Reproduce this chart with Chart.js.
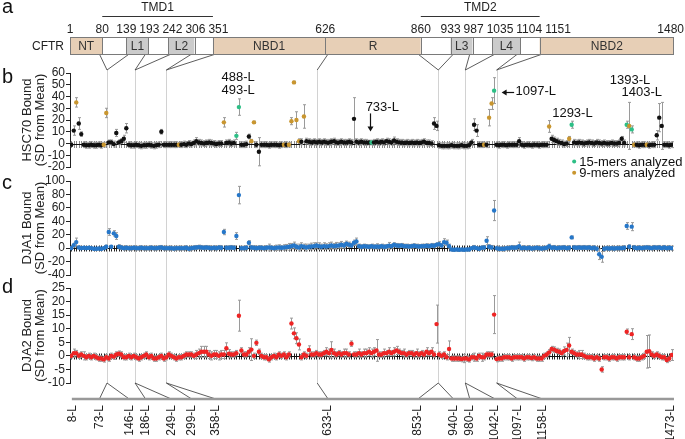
<!DOCTYPE html>
<html><head><meta charset="utf-8">
<script src="https://cdn.jsdelivr.net/npm/chart.js@4/dist/chart.umd.min.js"></script>
<style>
html,body{margin:0;padding:0;background:#fff;}
#wrap{position:relative;width:685px;height:439px;overflow:hidden;}
#wrap canvas{position:absolute;left:0;top:0;}
</style></head><body>
<div id="wrap">
<canvas id="cb" width="685" height="439"></canvas>
<canvas id="cc" width="685" height="439"></canvas>
<canvas id="cd" width="685" height="439"></canvas>
</div>
<script>
// ---------- DATA ----------
// panel b: HSC70 bound (SD from mean), one value per peptide
const hsc70 = [
 -1, 11, 35, 17, 8, -1, -1.5, -1.5, -1, -1.5,
 -1.5, -1, -1.5, -1, 26, 1, 1, -0.5, 9, 1,
 2, 4, 13, -1, -1.5, -1.5, -1, -1.5, -2, -1.5,
 -1.5, -1, -1.5, -2, -1.5, -1, 10, -1, -1, -1,
 -1, -1, -1, -1, -1, -0.5, -1, 0, -0.5, 0.5,
 2, 1, 0.5, 0, 0.5, 1, 0.5, 0, -0.5, 0,
 0, 18, 0.5, 1, 0, 0.5, 6.5, 31, -1, -1,
 -0.5, 6, 2, 18, -1, -7, -1, -1, -1, -1.5,
 -1, -1, -1, -1.5, -1, -1, -1, -1, 19, 52,
 20, 2, 1.5, 23, 2, 1.5, 1, 1.5, 1, 1.5,
 1, 1.5, 1, 1, 1.5, 2, 1, 1, 1.5, 1,
 1, 1.5, 1, 21, 1.5, 1, 1.5, 1, 1, 0.8,
 0.8, 1, 1.5, 1, 1.5, 1, 2, 1.5, 1, 2.5,
 1.5, 1, 1, 0.5, 1, 0.5, 1, 0.5, 1, 0.5,
 1, 1.5, 0.5, 0.5, 0, 17, 15, -1.5, -2, -2,
 -2, -2, -1.5, -2, -2, -2, -1.5, -2, -2, -1.5,
 1, 16, 11, -1, -1, -1, -1, 22, 34, 45,
 -1, -1.5, -1, -1, -1.5, -1, -1, -1, -1, 2,
 -1, -1.5, -1, -1, -1.5, -1, -1, -1.5, -1, -1,
 -1, 14.5, 4, 3, 2, 1, 0.5, -0.5, 0, 4,
 16, 1, 0.5, 1, 0.5, 0, 0.5, 1, 0.5, 0,
 1, 0.5, 0, 0.5, 0, 0, 0.5, 0, 0, 0.5,
 4, 0.5, 16, 15, 12, -1, -1, -1.5, -1, -1,
 -1, -1.5, -1, -1, 7, 22, 15, -1, -1, -1.5,
 -1
];
const hsc70Err = [
 1.5, 4, 4, 5, 2, 2.5, 2.5, 2.5, 2.5, 2.5,
 2.5, 2.5, 2.5, 2, 4, 2, 2, 2.5, 3, 2,
 2, 3, 4, 2.5, 2.5, 2.5, 2.5, 2.5, 2.5, 2.5,
 2.5, 2.5, 2.5, 2.5, 2.5, 2.5, 2, 2.5, 2.5, 2.5,
 2.5, 2.5, 2.5, 2, 2.5, 2.5, 2.5, 2.5, 2.5, 2.5,
 3, 2.5, 2.5, 2.5, 2.5, 2.5, 2.5, 2.5, 2.5, 2.5,
 2.5, 4, 2.5, 2.5, 2.5, 2.5, 3, 7, 2.5, 2.5,
 2.5, 2, 1.5, 1, 2.5, 12, 2.5, 2.5, 2.5, 2.5,
 2.5, 2.5, 2.5, 2.5, 2.5, 2, 2.5, 2, 3, 1,
 7, 2, 2.5, 10, 2.5, 2.5, 2.5, 2.5, 2.5, 2.5,
 2.5, 2.5, 2.5, 2.5, 2.5, 2.5, 2.5, 2.5, 2.5, 2.5,
 2.5, 2.5, 2.5, 18, 2.5, 2.5, 2.5, 2.5, 2.5, 2,
 2, 2.5, 2.5, 2.5, 2.5, 2.5, 2.5, 2.5, 2.5, 3,
 2.5, 2.5, 2.5, 2.5, 2.5, 2.5, 2.5, 2.5, 2.5, 2.5,
 2.5, 2.5, 2.5, 2.5, 2.5, 5, 4, 2.5, 2.5, 2.5,
 2.5, 2.5, 2.5, 2.5, 2.5, 2.5, 2.5, 2.5, 2.5, 2.5,
 2.5, 5, 5, 2.5, 2.5, 2, 2.5, 7, 5, 11,
 2.5, 2.5, 2.5, 2.5, 2.5, 2.5, 2.5, 2.5, 2.5, 3,
 2.5, 2.5, 2.5, 2.5, 2.5, 2.5, 2.5, 2.5, 2.5, 2.5,
 2.5, 5, 3, 2.5, 2.5, 2.5, 2.5, 2.5, 2.5, 2,
 3, 2.5, 2.5, 2.5, 2.5, 2.5, 2.5, 2.5, 2.5, 2.5,
 2.5, 2.5, 2.5, 2.5, 2.5, 2.5, 2.5, 2.5, 2.5, 2.5,
 2, 2.5, 3, 20, 3, 2, 2.5, 2.5, 2.5, 2.5,
 2, 2.5, 2.5, 2.5, 4, 12, 20, 2.5, 2.5, 2.5,
 2.5
];
// peptides analysed as 9-mers (gold) and 15-mers (green) in panel b
const nineMerIdx = [2, 13, 14, 43, 61, 72, 73, 85, 87, 88, 89, 90, 91, 93, 165, 167, 168, 191, 199, 223, 225, 230];
const fifteenMerIdx = [66, 67, 120, 169, 200, 222, 224];

// panel c: DJA1 bound
const dja1 = [
 0, 4.5, 9, 1, 0, 0.5, 0, 0.5, 0, -1,
 -1, -0.5, -1, 0, 2, 24, 2, 22, 18, 2,
 1, 0, 0.5, 0, 0, 0.5, 0, 0, 0.5, 0,
 0, 0, 0.5, 0, 0, 0.5, 1, 0, 0, 0,
 0, -0.5, 0, 0, 0, 0, 0.5, -1, 0, 0.5,
 1, 1.5, 1, 0.5, 1, 0.5, 0, 0.5, 0, 1,
 0.5, 24, 0.5, 0.5, 1, 0.5, 18, 79, 0, 0,
 0.5, 8, 1, 0.5, 0, 0.5, 0.5, 0, 0.5, 1,
 0.5, 0, 0.5, 1, 0.5, 1, 1.5, 2, 3, 4,
 2, 1, 3, 2, 1, 2, 2.5, 3, 4, 3,
 2, 3, 2.5, 3, 4, 3, 3.5, 4, 5, 4,
 6.5, 5, 4, 8, 10, 3, 2, 3, 2.5, 2,
 3, 2, 2.5, 2, 3, 2, 2.5, 3.5, 3, 5,
 4, 3.5, 4, 3, 3, 2.5, 3, 3.5, 3, 2.5,
 3, 3, 3.5, 3, 4, 3.5, 5, 6, 4, 9,
 8, 3, -2, -2.5, -2, -2.5, -2, -2.5, -2, -2,
 0, 1, 0, -1, 0.5, 1, 11, 2, 1, 56,
 0, -1, -1, -1, 0, 0, 1, 0.5, 1, 3,
 0, 0.5, 0, 0.5, -0.5, 0, 0.5, 0, -0.5, 0,
 0.5, 3, 0.5, 1, 0, 0.5, 0.5, 1, 0, 0.5,
 16, 1, 0.5, 1, 0.5, 1, 0.5, 1, 0, 0.5,
 -1, -9, -13, -1, 0, -0.5, 0, -0.5, 0, 0,
 0, 0.5, 33, 2, 32, 1, 0, 0.5, 0, 0.5,
 1, 0.5, 0, 1, 0.5, 1, 0, 1, 0, 0.5,
 0
];
const dja1Err = [
 1.5, 3, 6, 2, 2, 2, 2, 2, 2, 2,
 2, 2, 2, 2, 2.5, 5, 2, 4, 5, 3,
 3, 3, 3, 3, 3, 3, 3, 3, 3, 3,
 3, 3, 3, 3, 3, 3, 3, 3, 3, 3,
 3, 3, 3, 3, 3, 3, 3, 3, 3, 3,
 3, 3, 3, 3, 3, 3, 3, 3, 3, 3,
 3, 4, 3, 3, 3, 3, 5, 13, 3, 3,
 3, 3, 3, 3, 3, 3, 3, 3, 3, 5,
 3, 3, 4, 4, 3, 4, 4, 5, 4, 5,
 4, 5, 5, 4, 5, 4, 5, 5, 4, 5,
 4, 5, 4, 5, 5, 4, 5, 4, 5, 4,
 4, 4, 3, 4, 5, 3, 3, 3, 3, 3,
 3, 3, 4, 3, 3, 3, 3, 5, 3, 3,
 3, 3, 3, 3, 3, 3, 3, 3, 3, 3,
 3, 3, 3, 3, 3, 3, 3, 4, 3, 5,
 4, 3, 2, 2, 2, 2, 2, 2, 2, 2,
 2, 3, 2, 2, 3, 3, 6, 3, 3, 15,
 3, 3, 3, 3, 3, 3, 3, 3, 3, 6,
 3, 3, 3, 3, 3, 3, 3, 3, 3, 3,
 3, 3, 3, 3, 3, 3, 3, 3, 3, 3,
 2, 3, 3, 3, 3, 3, 3, 3, 3, 3,
 3, 8, 8, 3, 3, 3, 3, 3, 3, 3,
 3, 3, 5, 3, 6, 3, 3, 3, 3, 3,
 3, 3, 3, 3, 3, 3, 3, 3, 3, 3,
 3
];

// panel d: DJA2 bound
const dja2 = [
 0, 1, 1, 0, 0.5, 0, -0.5, 0, -0.5, 0,
 -0.5, -1, -1, -1.3, -0.5, -1, 0, -0.3, 0.5, 0.8,
 0.5, -0.5, -0.5, 0, -0.5, 0, -0.5, -1, -0.5, 0,
 0.5, -0.5, 0, -1, -1, -0.5, 0, -1, -0.5, 0.5,
 0, -0.5, -1, -0.5, -0.5, 0, 0.5, 0.5, 0.5, 0,
 0.5, 1, 1.5, 1.5, 1.5, 0.5, 0, 0.5, 0.5, 0,
 0.5, 0.5, 2.8, 0.8, 0.5, 0.5, 1, 14.8, 2, 0.5,
 0.5, 1.5, 2.3, 0, 4.8, 1.5, 0, -0.5, -0.5, -1.3,
 -0.5, 0, -0.5, 0.5, 0, 0.5, -0.5, 0.5, 11.9, 8.3,
 6.5, 4.2, -0.5, 0.5, 0, 2.2, 0.5, 0.5, 1, 0.5,
 0.5, 1, 1.5, 1, 2.2, 1, 0.5, 1, 0.5, 1,
 1, 0.5, 4.5, 0.5, 0.5, 1, 0.5, 1, 1, 1.5,
 1, 1.5, 2, 0.5, 0.5, 1, 1, 1.5, 1, 1.5,
 2, 1.5, 1, 1, 0.5, 1, 1, 0.5, 1, 0.5,
 1, 0.5, 1.5, 1, 1.5, 0.5, 11.7, 0.5, 0, 0.5,
 -0.5, 2.5, -1, -1, -1, -1, -1.2, -1, -1, -1.3,
 -0.5, -0.5, -1, 0, -0.5, -0.5, 0.5, 0.5, 0.5, 15.2,
 -1.2, -1, -1, -0.5, -0.5, -0.5, -1, -0.5, -0.5, -0.5,
 -0.5, -1, -0.5, -0.5, -0.8, -0.5, -1, -1, -1, 0,
 0.5, 1.3, 2.5, 2.3, 1.8, 1.5, 1, 1.8, 2.2, 3.8,
 1.5, 1, 0.5, 0.5, 0.5, 0, -0.5, -0.5, -0.5, -1,
 -0.5, -1, -5, -0.5, -0.5, -1, -0.5, -0.5, -1, -0.5,
 -0.5, -0.5, 8.9, -0.5, 8, -0.5, -1, -1, -0.5, 0,
 1.5, 1.7, 0.5, 0, 0.5, 0, -0.5, -0.5, -1.5, -1,
 0.3
];
const dja2Err = [
 0.8, 1.5, 1, 1, 1, 1.5, 1, 1, 1, 1,
 1, 1, 1, 1, 1, 1, 1, 1, 1, 1,
 1, 1, 1, 1, 1, 1, 1, 1, 1, 1,
 1, 1, 1, 1, 1, 1, 1, 1, 1, 1,
 1, 1, 1, 1, 1, 1, 1, 1, 1, 1,
 1.5, 1.5, 2, 2, 2, 1.5, 1.5, 1.5, 1.5, 1.5,
 1.5, 1.5, 2, 1.5, 1, 1, 1, 5.7, 1, 1,
 1, 1.5, 4, 1, 1, 1, 1, 1, 1, 1,
 1, 1, 1, 1, 1, 1, 1, 1, 2, 2,
 2, 2, 1, 1, 1, 1.5, 1, 1, 1, 1,
 1, 1, 1.5, 1.5, 3, 1.5, 1, 1, 1, 1.5,
 1.5, 1, 1, 1, 1, 1.5, 1, 1.5, 1.5, 1.5,
 1.5, 1.5, 4, 1, 1, 1.5, 1, 1.5, 1, 1.5,
 1.5, 1, 1, 1.5, 1, 1, 1, 1, 1.5, 1,
 1, 1, 1.5, 1, 1.5, 1, 7, 1, 1, 1,
 1, 3, 1, 1, 1, 1, 1, 1.5, 1, 1,
 1, 1.5, 1, 1, 1.5, 1, 1, 1, 1, 7,
 1, 1, 1, 1, 1, 1, 1, 1, 1, 1,
 1, 1, 1, 1, 1, 1, 1, 1, 1, 1,
 1, 1, 1, 1, 1, 1, 1, 1.5, 2.5, 3,
 1, 1, 1, 1.5, 1.5, 1, 1, 1, 1, 1,
 1, 1, 1, 1, 1, 1, 1, 1, 1, 1,
 1, 1, 1, 1, 2, 1, 1, 1, 1, 1,
 6, 6, 1, 1, 1, 1, 1, 1, 1, 1,
 2
];

// domain map (residue numbers)
const domainStart = [1, 80, 139, 193, 242, 306, 351, 626, 860, 933, 987, 1035, 1104, 1151];
const domainEnd   = [80, 139, 193, 242, 306, 351, 626, 860, 933, 987, 1035, 1104, 1151, 1480];
const domainName  = ['NT', '', 'L1', '', 'L2', '', 'NBD1', 'R', '', 'L3', '', 'L4', '', 'NBD2'];
const domainKind  = ['nbd', 'tm', 'loop', 'tm', 'loop', 'tm', 'nbd', 'nbd', 'tm', 'loop', 'tm', 'loop', 'tm', 'nbd'];
const domainTicks = [1, 80, 139, 193, 242, 306, 351, 626, 860, 933, 987, 1035, 1104, 1151, 1480];
const tmdNames = ['TMD1', 'TMD2'];
const tmdRanges = [[80, 351], [860, 1151]];

// peptide positions of the domain boundaries (gray lines), and peptide labels below
const boundaryPeptides = [14.3, 25.5, 38, 98.3, 146.7, 157.5, 170];
const peptideResidues = [8, 73, 146, 186, 249, 299, 358, 633, 853, 940, 980, 1042, 1097, 1158, 1473];
const boundaryToLabels = [[1, 2], [3, 4], [5, 6], [7], [8, 9], [10, 11], [12, 13]];

// ---------- STYLE / CHARTS ----------
Chart.defaults.font.family = "'Liberation Sans', Arial, Helvetica, sans-serif";
Chart.defaults.color = '#222';
const FONT = "'Liberation Sans', Arial, Helvetica, sans-serif";
const BLACK = '#111', GOLD = '#c9962f', GREEN = '#2dbf86', BLUE = '#2677c9', RED = '#ee2424';
const N = hsc70.length;

function yAxis(min, max, step, title) {
  return {
    min: min, max: max,
    ticks: { stepSize: step, autoSkip: false, font: { size: 12 }, color: '#222', padding: 1 },
    grid: { drawOnChartArea: false, drawTicks: true, tickLength: 4, color: '#222' },
    border: { display: true, color: '#222', width: 1 },
    title: { display: true, text: title, font: { size: 13, lineHeight: 1.0 }, color: '#222', padding: { top: 21, bottom: 0 } },
    afterFit: function (s) { s.width = 70; }
  };
}

function panelDecor(vals, errs, tickCol, tickHalf) {
  return {
    id: 'panelDecor',
    beforeDatasetsDraw(chart) {
      const { ctx, chartArea: ca, scales: { x, y } } = chart;
      const y0 = Math.round(y.getPixelForValue(0)) + 0.5;
      ctx.save();
      ctx.lineWidth = 1;
      ctx.strokeStyle = tickCol;
      ctx.beginPath();
      for (let i = 0; i < vals.length; i++) {
        const px = Math.round(x.getPixelForValue(i)) + 0.5;
        ctx.moveTo(px, y0 - tickHalf); ctx.lineTo(px, y0 + tickHalf);
      }
      ctx.stroke();
      ctx.strokeStyle = '#111';
      ctx.beginPath(); ctx.moveTo(ca.left, y0); ctx.lineTo(ca.right, y0); ctx.stroke();
      ctx.strokeStyle = '#9a9a9a';
      ctx.beginPath();
      for (let i = 0; i < vals.length; i++) {
        const px = Math.round(x.getPixelForValue(i)) + 0.5;
        const a = y.getPixelForValue(vals[i] + errs[i]);
        const b = y.getPixelForValue(vals[i] - errs[i]);
        ctx.moveTo(px, a); ctx.lineTo(px, b);
        ctx.moveTo(px - 1.5, a); ctx.lineTo(px + 1.5, a);
        ctx.moveTo(px - 1.5, b); ctx.lineTo(px + 1.5, b);
      }
      ctx.stroke();
      ctx.restore();
    }
  };
}

const TOPLINE = 70, BOTLINE = 383, BAR_TOP = 37, BAR_BOT = 54, PEP_BAR = 399;

const overlay = {
  id: 'overlay',
  beforeDatasetsDraw(chart) {
    const { ctx, chartArea: ca, scales: { x } } = chart;
    const resX = r => ca.left + (r - 1) / 1479 * (ca.right - ca.left + 1);
    ctx.save();
    // gray boundary lines through all panels
    ctx.strokeStyle = '#d2d2d2'; ctx.lineWidth = 1;
    boundaryPeptides.forEach(b => {
      const px = Math.round(x.getPixelForValue(b)) + 0.5;
      ctx.beginPath(); ctx.moveTo(px, TOPLINE); ctx.lineTo(px, BOTLINE); ctx.stroke();
    });
    // fans
    ctx.strokeStyle = '#333'; ctx.lineWidth = 0.8;
    boundaryPeptides.forEach((b, k) => {
      const px = x.getPixelForValue(b);
      boundaryToLabels[k].forEach(li => {
        const rx = resX(peptideResidues[li]);
        ctx.beginPath(); ctx.moveTo(px, TOPLINE); ctx.lineTo(rx, BAR_BOT); ctx.stroke();
        ctx.beginPath(); ctx.moveTo(px, BOTLINE); ctx.lineTo(rx, PEP_BAR); ctx.stroke();
      });
    });
    ctx.restore();
  },
  afterDraw(chart) {
    const { ctx, chartArea: ca, scales: { x, y } } = chart;
    const resX = r => ca.left + (r - 1) / 1479 * (ca.right - ca.left + 1);
    ctx.save();
    // panel letters
    ctx.fillStyle = '#111'; ctx.font = '20px ' + FONT; ctx.textAlign = 'left'; ctx.textBaseline = 'alphabetic';
    [['a', 13], ['b', 83], ['c', 189], ['d', 293]].forEach(([t, yy]) => ctx.fillText(t, 2, yy));
    // domain bar
    domainStart.forEach((s, k) => {
      const x0 = resX(s), x1 = resX(domainEnd[k]);
      ctx.fillStyle = domainKind[k] === 'nbd' ? '#e7cfb6' : (domainKind[k] === 'loop' ? '#cbcbcb' : '#ffffff');
      ctx.fillRect(x0, BAR_TOP, x1 - x0, BAR_BOT - BAR_TOP);
    });
    ctx.strokeStyle = '#7a7a7a'; ctx.lineWidth = 1;
    ctx.strokeRect(Math.round(resX(1)) + 0.5, BAR_TOP + 0.5, Math.round(resX(1480) - resX(1)) - 1, BAR_BOT - BAR_TOP);
    ctx.beginPath();
    domainStart.forEach((s, k) => { if (k > 0) { const xx = Math.round(resX(s)) + 0.5; ctx.moveTo(xx, BAR_TOP); ctx.lineTo(xx, BAR_BOT); } });
    ctx.stroke();
    ctx.fillStyle = '#333'; ctx.font = '12px ' + FONT; ctx.textAlign = 'center'; ctx.textBaseline = 'middle';
    domainName.forEach((n, k) => { if (n) ctx.fillText(n, (resX(domainStart[k]) + resX(domainEnd[k])) / 2, (BAR_TOP + BAR_BOT) / 2 + 1); });
    ctx.textAlign = 'right'; ctx.fillStyle = '#222';
    ctx.fillText('CFTR', 64, (BAR_TOP + BAR_BOT) / 2 + 1);
    // residue numbers, nudged apart so they do not collide
    ctx.textAlign = 'center';
    const pos = domainTicks.map(r => resX(r));
    const w = domainTicks.map(r => ctx.measureText(String(r)).width);
    for (let i = 1; i < pos.length; i++) pos[i] = Math.max(pos[i], pos[i - 1] + (w[i - 1] + w[i]) / 2 + 3);
    pos[pos.length - 1] = Math.min(pos[pos.length - 1], 684 - w[w.length - 1] / 2);
    for (let i = pos.length - 2; i >= 0; i--) pos[i] = Math.min(pos[i], pos[i + 1] - (w[i + 1] + w[i]) / 2 - 3);
    domainTicks.forEach((r, i) => ctx.fillText(String(r), pos[i], 30));
    // TMD brackets
    ctx.strokeStyle = '#333'; ctx.lineWidth = 1;
    tmdRanges.forEach(([a, b], k) => {
      ctx.beginPath(); ctx.moveTo(resX(a), 16.5); ctx.lineTo(resX(b), 16.5); ctx.stroke();
      ctx.fillText(tmdNames[k], (resX(a) + resX(b)) / 2, 8);
    });
    // peptide bar at bottom
    ctx.strokeStyle = '#999'; ctx.lineWidth = 2.5;
    ctx.beginPath(); ctx.moveTo(resX(peptideResidues[0]) - 1, PEP_BAR); ctx.lineTo(resX(1480), PEP_BAR); ctx.stroke();
    ctx.fillStyle = '#222'; ctx.font = '12px ' + FONT; ctx.textAlign = 'right'; ctx.textBaseline = 'middle';
    peptideResidues.forEach(r => {
      ctx.save(); ctx.translate(resX(r), 405); ctx.rotate(-Math.PI / 2); ctx.fillText(r + '-L', 0, 0); ctx.restore();
    });
    // annotations in panel b
    ctx.font = '13px ' + FONT; ctx.fillStyle = '#111'; ctx.textAlign = 'center'; ctx.textBaseline = 'middle';
    const notes = [['488-L', 66.7, 56], ['493-L', 66.7, 45], ['733-L', 124.3, 31], ['1293-L', 200.3, 25.6], ['1393-L', 223.3, 54], ['1403-L', 228, 43.6]];
    notes.forEach(([t, i, v]) => ctx.fillText(t, x.getPixelForValue(i), y.getPixelForValue(v)));
    ctx.textAlign = 'left';
    ctx.fillText('1097-L', x.getPixelForValue(177.6), y.getPixelForValue(44));
    ctx.strokeStyle = '#111'; ctx.lineWidth = 1.2;
    // 733-L arrow (down)
    const ax = Math.round(x.getPixelForValue(119.5)) + 0.5, ay0 = y.getPixelForValue(25.6), ay1 = y.getPixelForValue(10.2);
    ctx.beginPath(); ctx.moveTo(ax, ay0); ctx.lineTo(ax, ay1 - 4); ctx.stroke();
    ctx.beginPath(); ctx.moveTo(ax - 3, ay1 - 5); ctx.lineTo(ax + 3, ay1 - 5); ctx.lineTo(ax, ay1); ctx.closePath(); ctx.fill();
    // 1097-L arrow (left)
    const by = Math.round(y.getPixelForValue(44)) + 0.5, bx0 = x.getPixelForValue(177), bx1 = x.getPixelForValue(172);
    ctx.beginPath(); ctx.moveTo(bx0, by); ctx.lineTo(bx1 + 4, by); ctx.stroke();
    ctx.beginPath(); ctx.moveTo(bx1 + 5, by - 3); ctx.lineTo(bx1 + 5, by + 3); ctx.lineTo(bx1, by); ctx.closePath(); ctx.fill();
    // legend
    const lx = x.getPixelForValue(201);
    [[GREEN, '15-mers analyzed', -15.4], [GOLD, '9-mers analyzed', -24.8]].forEach(([c, t, v]) => {
      const ly = y.getPixelForValue(v);
      ctx.fillStyle = c; ctx.beginPath(); ctx.arc(lx, ly, 2, 0, Math.PI * 2); ctx.fill();
      ctx.fillStyle = '#111'; ctx.fillText(t, lx + 5, ly + 1);
    });
    ctx.restore();
  }
};

function makeChart(id, vals, colors, yopt, pad, plugins) {
  return new Chart(document.getElementById(id), {
    type: 'scatter',
    data: { datasets: [{ data: vals.map((v, i) => ({ x: i, y: v })), pointBackgroundColor: colors, pointBorderColor: colors, pointBorderWidth: 0, pointRadius: 2.2 }] },
    options: {
      responsive: false, animation: false, events: [],
      layout: { padding: pad },
      plugins: { legend: { display: false }, tooltip: { enabled: false } },
      scales: { x: { type: 'linear', min: -0.5, max: N - 0.5, display: false }, y: yopt }
    },
    plugins: plugins
  });
}

const bColors = hsc70.map((v, i) => fifteenMerIdx.includes(i) ? GREEN : (nineMerIdx.includes(i) ? GOLD : BLACK));
makeChart('cb', hsc70, bColors, yAxis(-20, 60, 10, ['HSC70 Bound', '(SD from Mean)']),
  { left: 0, top: 73, right: 12, bottom: 272 }, [overlay, panelDecor(hsc70, hsc70Err, '#8a8a8a', 3.5)]);
makeChart('cc', dja1, dja1.map(() => BLUE), yAxis(-40, 100, 20, ['DJA1 Bound', '(SD from Mean)']),
  { left: 0, top: 181, right: 12, bottom: 164 }, [panelDecor(dja1, dja1Err, '#222', 3)]);
makeChart('cd', dja2, dja2.map(() => RED), yAxis(-10, 25, 5, ['DJA2 Bound', '(SD from Mean)']),
  { left: 0, top: 288, right: 12, bottom: 56 }, [panelDecor(dja2, dja2Err, '#222', 3)]);
</script>
</body></html>
